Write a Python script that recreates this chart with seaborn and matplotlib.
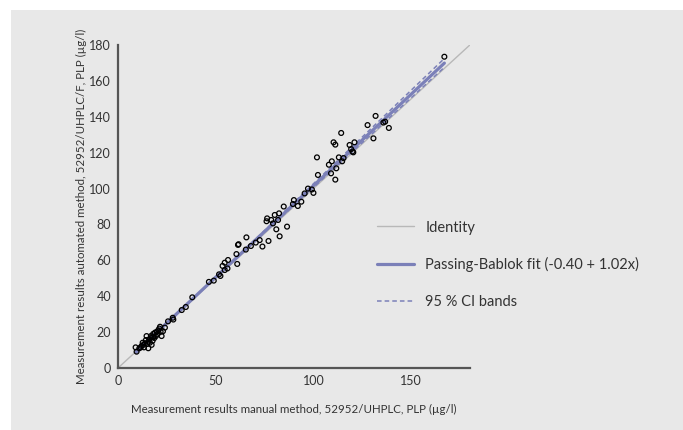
import numpy as np
import pandas as pd
import matplotlib
matplotlib.use("Agg")
import matplotlib.pyplot as plt
from matplotlib.patches import Rectangle
import seaborn as sns

manual = [9.5, 9.0, 10.9, 12.1, 12.6, 13.3, 14.3, 15.0, 15.5, 16.0, 16.3, 17.2, 16.8, 17.7,
          18.0, 18.6, 18.9, 19.4, 19.8, 20.3, 20.6, 21.1, 21.8, 23.0, 22.3, 14.6, 13.8, 11.6,
          12.9, 15.5, 18.0, 17.2, 24.0, 21.5,
          25.6, 28.0, 28.3, 32.6, 34.7, 38.0, 46.5, 49.0, 51.7, 52.4, 53.5, 54.6, 56.3, 54.6,
          56.0, 61.0, 60.6, 61.4, 61.7, 65.7, 65.4, 68.0, 70.5, 72.5, 73.9, 77.0, 76.3, 76.0,
          78.4, 80.2, 79.3, 81.9, 82.4, 81.0, 82.7, 84.8, 86.5, 90.0, 89.5, 92.0,
          93.8, 95.5, 97.2, 99.2, 100.0, 102.3, 101.8, 109.0, 107.9, 109.4, 111.7, 111.2, 113.0,
          114.7, 115.4, 110.3, 111.2, 114.2, 118.5, 121.0, 119.3, 120.0, 120.4, 127.7, 131.8,
          130.7, 135.8, 136.7, 138.6, 167.0]
automated = [9.1, 11.5, 11.0, 12.3, 14.1, 11.5, 15.6, 13.4, 11.0, 16.0, 14.1, 17.1, 17.8, 15.2,
             19.0, 16.7, 19.7, 17.8, 20.2, 19.0, 21.0, 22.0, 20.2, 20.5, 17.8, 17.8, 13.8, 11.5,
             12.9, 14.7, 17.3, 12.9, 22.5, 23.0,
             26.0, 28.0, 27.0, 32.3, 34.0, 39.4, 48.0, 48.7, 52.2, 51.3, 56.9, 58.7, 60.2, 54.6,
             55.5, 58.0, 63.5, 68.6, 69.0, 72.8, 66.0, 68.0, 69.9, 71.3, 67.7, 70.8, 83.4, 81.8,
             82.5, 85.3, 80.6, 82.5, 86.2, 77.3, 73.4, 90.0, 78.8, 93.6, 91.4, 90.3,
             92.7, 97.3, 100.0, 99.5, 97.6, 107.6, 117.4, 108.5, 113.3, 115.2, 111.3, 105.0, 117.4,
             115.2, 117.0, 125.8, 124.5, 131.0, 124.3, 125.8, 122.0, 120.7, 120.2, 135.4, 140.5,
             128.0, 136.8, 137.3, 133.8, 173.5]

# Passing-Bablok fit and CI bands
fit_intercept, fit_slope = -0.40, 1.02
ci_lines = [(-1.5, 1.042), (0.6, 1.0)]
fit_range = [9, 167]
identity_range = [0, 180]

x_ticks = [0, 50, 100, 150]
y_ticks = [0, 20, 40, 60, 80, 100, 120, 140, 160, 180]

panel = "#e8e8e8"
fit_color = "#7b80b8"

sns.set_style("white")
plt.rcParams["font.family"] = ["Lato", "DejaVu Sans"]

fig = plt.figure(figsize=(6.83, 4.30), dpi=100)
fig.patch.set_facecolor("white")
fig.patches.append(Rectangle((11 / 683, 0), 1, 420 / 430, transform=fig.transFigure,
                             facecolor=panel, edgecolor="none", zorder=-1))

ax = fig.add_axes([0.1728, 0.1442, 0.515, 0.751])
ax.set_facecolor(panel)

ident = pd.DataFrame({"x": identity_range, "y": identity_range})
sns.lineplot(data=ident, x="x", y="y", ax=ax, color="#b8b8b8", linewidth=1.0,
             label="Identity", zorder=1)

fx = np.array(fit_range, dtype=float)
fit_df = pd.DataFrame({"x": fx, "y": fit_intercept + fit_slope * fx})
sns.lineplot(data=fit_df, x="x", y="y", ax=ax, color=fit_color, linewidth=2.3,
             label="Passing-Bablok fit (-0.40 + 1.02x)", zorder=2)

for i, (a, b) in enumerate(ci_lines):
    ci_df = pd.DataFrame({"x": fx, "y": a + b * fx})
    sns.lineplot(data=ci_df, x="x", y="y", ax=ax, color=fit_color, linewidth=1.1,
                 linestyle=(0, (3, 2)), label="95 % CI bands" if i == 0 else None, zorder=2)

pts = pd.DataFrame({"manual": manual, "automated": automated})
sns.scatterplot(data=pts, x="manual", y="automated", ax=ax, s=12, facecolor="none",
                edgecolor="black", linewidth=0.9, zorder=3, legend=False)

ax.set_xlim(0, 180)
ax.set_ylim(0, 180)
ax.set_xticks(x_ticks)
ax.set_yticks(y_ticks)
for s in ["top", "right"]:
    ax.spines[s].set_visible(False)
for s in ["left", "bottom"]:
    ax.spines[s].set_color("#555555")
    ax.spines[s].set_linewidth(1.6)
ax.tick_params(axis="both", direction="out", length=3, width=1.2, color="#555555",
               labelsize=9, labelcolor="#333333", pad=2)

ax.set_xlabel("Measurement results manual method, 52952/UHPLC, PLP (µg/l)",
              fontsize=8.3, color="#333333", labelpad=12)
ax.set_ylabel("Measurement results automated method, 52952/UHPLC/F, PLP (µg/l)",
              fontsize=8.3, color="#333333", labelpad=1.5)

ax.legend(loc="center left", bbox_to_anchor=(0.70, 0.32), frameon=False, fontsize=10.5,
          labelspacing=1.55, handlelength=2.5, handletextpad=0.8, labelcolor="#333333")

fig.savefig("out.png", dpi=100)
